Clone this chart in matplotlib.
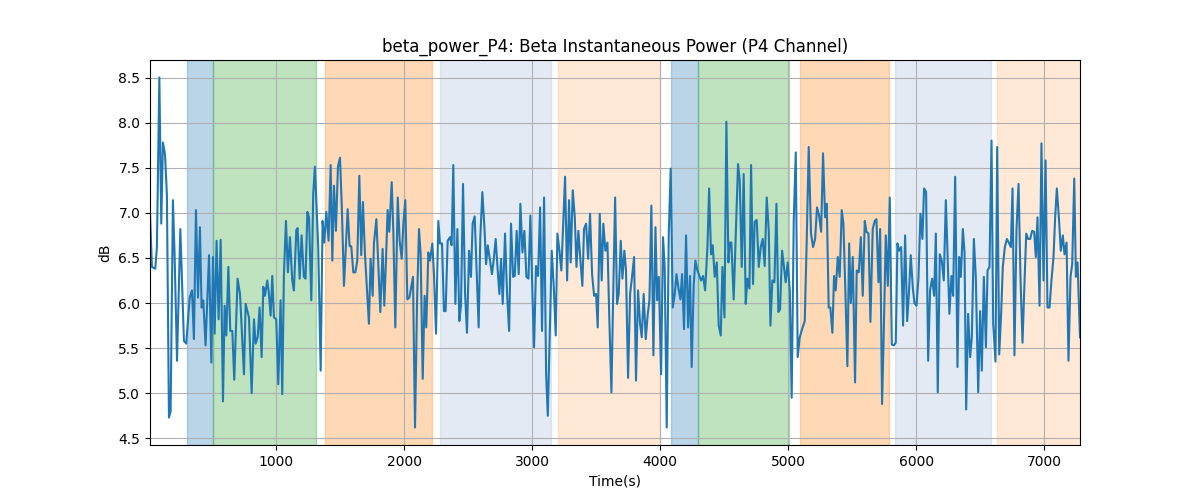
import matplotlib
matplotlib.use("Agg")
import matplotlib.pyplot as plt

# time (s) and beta power (dB)
time_s = [
    16, 31, 57, 70, 89, 104, 117, 133, 148, 164, 177, 195, 208, 227, 253, 281, 299, 326, 344, 359,
    375, 391, 406, 419, 432, 450, 477, 495, 508, 521, 536, 552, 568, 586, 599, 612, 628, 643, 659, 674,
    700, 719, 750, 763, 789, 810, 828, 841, 857, 872, 888, 901, 914, 932,
    945, 958, 971, 984, 1002, 1018, 1036, 1049, 1062, 1078, 1093, 1109, 1127, 1140, 1159, 1169, 1185, 1200,
    1218, 1231, 1245, 1258, 1276, 1291, 1304, 1317, 1330, 1349, 1364, 1377, 1393, 1411, 1427, 1440, 1453,
    1468, 1484, 1500, 1515, 1531, 1560, 1575, 1588, 1604, 1620, 1635, 1651, 1666, 1679, 1695, 1726, 1739,
    1755, 1765, 1784, 1815,
    1833, 1846, 1859, 1872, 1885, 1904, 1917, 1932, 1951, 1966, 1982, 1995, 2010, 2026, 2042, 2055, 2070,
    2086, 2102, 2117, 2130, 2146, 2161, 2174, 2190, 2203, 2221, 2234, 2250, 2268, 2281, 2297, 2312, 2325,
    2341, 2359, 2372, 2385, 2401, 2417, 2432, 2445, 2461, 2477, 2492, 2508, 2523, 2536, 2552, 2568, 2583,
    2596, 2612, 2628, 2641, 2654, 2672, 2687, 2700, 2716, 2732, 2745,
    2758, 2771, 2789, 2805, 2821, 2836, 2852, 2865, 2880, 2896, 2909, 2925, 2940, 2956, 2972, 2987, 3003,
    3016, 3031, 3047, 3063, 3078, 3094, 3110, 3123, 3138, 3154, 3170, 3185, 3198, 3214, 3229, 3258, 3274,
    3289, 3302, 3318, 3334, 3347, 3362, 3378, 3393, 3406, 3422, 3438, 3453, 3469, 3485, 3500, 3513, 3529,
    3544, 3557, 3573, 3589, 3604, 3620, 3633, 3649,
    3664, 3677, 3693, 3706, 3721, 3734, 3750, 3766, 3781, 3797, 3812, 3828, 3844, 3857, 3872, 3888, 3904,
    3917, 3932, 3948, 3964, 3977, 3990, 4008, 4023, 4036, 4052, 4068, 4083, 4099, 4115, 4128, 4143, 4159,
    4172, 4187, 4203, 4219, 4234, 4247, 4263, 4276, 4292, 4307, 4320, 4336, 4352, 4370, 4383, 4398, 4411,
    4427, 4443, 4458, 4474, 4487, 4503, 4518, 4534, 4544,
    4557, 4575, 4609, 4622, 4638, 4653, 4669, 4682, 4698, 4711, 4726, 4739, 4755, 4771, 4786, 4802, 4817,
    4833, 4849, 4862, 4877, 4893, 4909, 4924, 4937, 4953, 4968, 4981, 4997, 5013, 5028, 5044, 5060, 5075,
    5091, 5109, 5130, 5146, 5161, 5179, 5195, 5211, 5226, 5242, 5258, 5273, 5289, 5302, 5317, 5330, 5346,
    5359, 5372, 5388, 5403, 5419, 5432, 5448, 5463,
    5477, 5490, 5505, 5523, 5536, 5552, 5568, 5583, 5599, 5612, 5628, 5643, 5661, 5677, 5690, 5706, 5719,
    5734, 5747, 5763, 5779, 5794, 5810, 5825, 5841, 5854, 5867, 5883, 5898, 5914, 5930, 5945, 5958, 5974,
    5987, 6003, 6018, 6034, 6049, 6062, 6078, 6094, 6109, 6125, 6141, 6154, 6169, 6185, 6200, 6216, 6232,
    6245, 6260, 6276, 6289, 6305, 6323, 6336, 6349, 6365,
    6378, 6391, 6406, 6422, 6435, 6451, 6466, 6485, 6500, 6513, 6529, 6545, 6558, 6573, 6589, 6602, 6620,
    6633, 6649, 6664, 6677, 6693, 6709, 6724, 6740, 6753, 6768, 6784, 6800, 6815, 6831, 6847, 6860, 6875,
    6891, 6906, 6922, 6935, 6948, 6964, 6979, 6995, 7011, 7026, 7042, 7057, 7073, 7086, 7099, 7115, 7130,
    7146, 7159, 7175, 7190, 7206, 7219, 7235, 7248, 7261, 7280,
]
power_db = [
    6.99, 6.40, 6.38, 6.62, 8.50, 6.88, 7.78, 7.65, 7.20, 4.73, 4.80, 7.14, 6.54, 5.36, 6.82, 5.58, 5.55, 6.06, 6.14, 5.60,
    7.03, 6.06, 6.84, 5.95, 6.03, 5.53, 6.53, 5.34, 6.51, 5.66, 6.69, 5.82, 6.70, 4.91, 5.97, 5.64, 6.40, 5.69, 5.69, 5.15,
    6.27, 6.10, 5.21, 5.99, 5.84, 5.00, 5.82, 5.55, 5.62, 5.95, 5.40, 6.18, 6.08, 6.25,
    6.10, 5.86, 6.30, 5.84, 5.82, 5.10, 6.03, 4.99, 6.32, 6.91, 6.34, 6.73, 6.25, 6.14, 6.81, 6.83, 6.27, 6.75,
    6.29, 6.27, 7.01, 6.95, 6.03, 7.21, 7.51, 7.06, 6.62, 5.25, 6.91, 6.67, 7.01, 6.69, 7.53, 6.47, 7.30,
    6.80, 7.51, 7.61, 7.03, 6.19, 7.04, 6.63, 6.63, 6.34, 6.34, 6.47, 7.41, 6.53, 7.12, 6.54, 5.77, 6.49,
    6.08, 6.66, 6.93, 5.90,
    6.60, 5.97, 6.47, 7.03, 6.79, 7.34, 6.77, 5.73, 7.17, 6.69, 6.49, 6.88, 7.14, 6.04, 6.06, 6.17, 6.29,
    4.62, 6.03, 6.82, 6.54, 5.16, 6.08, 5.73, 6.56, 6.47, 6.66, 6.32, 5.66, 6.91, 6.66, 6.66, 5.91, 5.91,
    6.69, 6.73, 6.64, 7.53, 5.99, 6.82, 5.80, 5.97, 7.32, 6.10, 5.67, 6.58, 6.29, 6.88, 6.96, 6.34, 5.73,
    6.73, 7.23, 6.84, 6.43, 6.64, 6.47, 6.32, 6.47, 6.71, 6.36, 6.10,
    6.49, 5.99, 6.77, 6.10, 5.69, 6.88, 6.29, 6.30, 6.80, 6.32, 7.10, 6.56, 6.80, 6.29, 6.27, 6.97, 6.10,
    5.51, 6.41, 6.30, 7.06, 5.69, 7.17, 5.21, 4.75, 5.66, 6.58, 6.17, 5.64, 6.77, 6.58, 6.36, 7.40, 6.25,
    7.14, 6.45, 7.25, 6.95, 6.40, 6.80, 6.47, 6.19, 6.82, 6.88, 6.49, 6.99, 6.32, 6.08, 6.10, 5.73, 6.99,
    6.25, 6.88, 6.58, 6.67, 5.80, 5.01, 6.03, 7.17,
    5.99, 6.10, 6.69, 6.27, 6.58, 6.36, 5.17, 6.10, 6.29, 6.51, 5.14, 6.14, 5.77, 5.62, 6.10, 5.60, 5.88,
    6.03, 7.08, 5.42, 6.84, 6.03, 6.29, 5.21, 6.73, 6.40, 4.62, 6.77, 7.49, 5.95, 6.10, 6.32, 6.17, 6.04,
    6.32, 5.71, 6.75, 5.73, 6.30, 5.29, 6.21, 6.47, 6.36, 6.30, 6.25, 6.30, 6.14, 6.62, 7.27, 6.54, 6.64,
    6.29, 6.45, 5.75, 5.64, 6.40, 5.84, 8.01, 6.45, 6.67,
    6.67, 6.04, 7.54, 7.36, 6.40, 7.43, 5.99, 6.27, 6.16, 7.53, 6.21, 6.90, 6.92, 6.40, 6.62, 6.71, 6.41,
    7.17, 6.80, 5.75, 6.25, 6.23, 7.10, 5.90, 5.93, 6.58, 6.40, 6.23, 6.45, 6.14, 4.95, 6.91, 7.67, 5.40,
    5.62, 5.71, 5.80, 6.73, 7.73, 6.77, 6.62, 6.71, 7.06, 6.97, 6.79, 7.66, 6.95, 7.10, 5.95, 5.95, 5.67,
    6.30, 6.14, 6.51, 6.29, 7.03, 6.88, 6.10, 5.30,
    6.66, 6.00, 6.51, 5.12, 6.36, 6.34, 6.73, 6.08, 6.91, 6.79, 6.77, 5.79, 6.82, 6.91, 6.93, 6.23, 6.82,
    4.88, 5.66, 6.75, 6.19, 7.17, 5.54, 5.53, 5.56, 6.66, 6.58, 6.62, 5.75, 6.75, 5.80, 6.14, 6.53, 6.17,
    6.00, 5.97, 6.27, 6.99, 6.71, 7.27, 7.23, 5.36, 6.14, 6.27, 6.08, 6.77, 5.01, 6.54, 6.47, 6.25, 7.14,
    6.54, 5.88, 6.30, 6.08, 7.40, 5.29, 6.51, 6.29, 6.82,
    6.56, 4.82, 5.88, 5.40, 5.62, 6.71, 6.29, 5.01, 5.91, 5.25, 6.29, 5.51, 6.36, 6.40, 7.80, 5.77, 5.35,
    7.73, 5.43, 5.88, 6.40, 6.62, 6.71, 6.67, 6.62, 7.27, 5.42, 6.82, 7.32, 6.29, 5.56, 6.25, 6.77, 6.71,
    6.71, 6.80, 6.79, 6.51, 6.95, 5.97, 7.77, 6.25, 7.58, 5.95, 5.95, 6.25, 6.51, 6.95, 7.27, 6.95, 6.58,
    6.75, 6.54, 6.67, 5.36, 6.29, 6.43, 7.38, 6.29, 6.45, 5.62,
]

# shaded task phases: start, end, colour, alpha
span_start = [305, 508, 1383, 2281, 3203, 4086, 4297, 5094, 5836, 6633]
span_end = [508, 1312, 2219, 3148, 4000, 4297, 5008, 5789, 6586, 7400]
span_color = ["tab:blue", "tab:green", "tab:orange", "lightsteelblue", "tab:orange",
              "tab:blue", "tab:green", "tab:orange", "lightsteelblue", "tab:orange"]
span_alpha = [0.3, 0.3, 0.3, 0.35, 0.17, 0.3, 0.3, 0.3, 0.35, 0.17]


def main():
    fig, ax = plt.subplots(figsize=(12, 5), dpi=100)

    for s, e, c, a in zip(span_start, span_end, span_color, span_alpha):
        ax.axvspan(s, e, color=c, alpha=a)

    ax.plot(time_s, power_db, color="tab:blue")
    ax.set_xlim(time_s[0], time_s[-1])
    ax.set_title("beta_power_P4: Beta Instantaneous Power (P4 Channel)")
    ax.set_xlabel("Time(s)")
    ax.set_ylabel("dB")
    ax.grid(True)

    fig.savefig("out.png")


if __name__ == "__main__":
    main()
